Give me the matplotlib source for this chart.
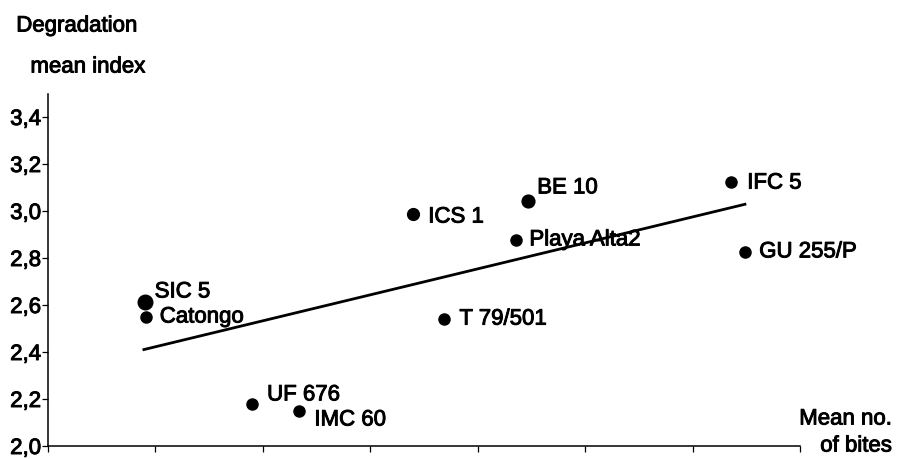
import matplotlib
matplotlib.use("Agg")
import matplotlib.pyplot as plt
import matplotlib.patheffects as pe
from matplotlib.ticker import FuncFormatter, MultipleLocator

# Data (x in arbitrary axis units, 0..7)
varieties = ["SIC 5", "Catongo", "UF 676", "IMC 60", "T 79/501",
             "ICS 1", "BE 10", "Playa Alta2", "IFC 5", "GU 255/P"]
mean_bites = [0.90, 0.91, 1.90, 2.34, 3.69, 3.40, 4.47, 4.36, 6.36, 6.49]
degradation = [2.613, 2.549, 2.179, 2.149, 2.540, 2.987, 3.043, 2.877, 3.123, 2.826]
marker_sizes = [10.5, 8, 8, 8, 8, 8.5, 9.2, 8, 8, 8]
label_offsets = [(10, 10), (14, 0), (15, 9), (15, -9), (15, 0),
                 (15, -3), (9, 13), (13, 0), (16, -1), (14, 0)]

# Trend line end points
fit_x = [0.88, 6.50]
fit_y = [2.409, 3.030]

y_ticks = [2.0, 2.2, 2.4, 2.6, 2.8, 3.0, 3.2, 3.4]

plt.rcParams['font.family'] = ['Liberation Sans', 'DejaVu Sans']
FS = 16
heavy = [pe.withStroke(linewidth=0.7, foreground='black')]

fig = plt.figure(figsize=(9.02, 4.60), dpi=100)
ax = fig.add_axes([48/902, 13/460, (800-48)/902, (447-94.5)/460])

ax.plot(fit_x, fit_y, color='black', lw=2.0, solid_capstyle='butt')
for x, y, ms, name, off in zip(mean_bites, degradation, marker_sizes, varieties, label_offsets):
    ax.plot([x], [y], 'o', color='black', ms=ms, mec='black')
    ax.annotate(name, (x, y), xytext=off, textcoords='offset pixels',
                ha='left', va='center', fontsize=FS, color='black', path_effects=heavy)

ax.set_xlim(0, 7)
ax.set_ylim(2.0, 3.5)
ax.xaxis.set_major_locator(MultipleLocator(1))
ax.set_yticks(y_ticks)
ax.yaxis.set_major_formatter(FuncFormatter(lambda v, p: f"{v:.1f}".replace('.', ',')))
ax.set_xticklabels([])
ax.tick_params(axis='x', direction='out', length=4, width=0.9, labelbottom=False)
ax.tick_params(axis='y', direction='out', length=4, width=0.9, labelsize=FS, pad=1)
for lbl in ax.get_yticklabels():
    lbl.set_path_effects(heavy)
for s in ['top', 'right']:
    ax.spines[s].set_visible(False)
for s in ['left', 'bottom']:
    ax.spines[s].set_linewidth(1.1)

fig.text(77/902, 1 - 27/460, "Degradation", ha='center', va='center', fontsize=FS, path_effects=heavy)
fig.text(88/902, 1 - 68/460, "mean index", ha='center', va='center', fontsize=FS, path_effects=heavy)
fig.text(892/902, 1 - 420/460, "Mean no.", ha='right', va='center', fontsize=FS, path_effects=heavy)
fig.text(892/902, 1 - 447/460, "of bites", ha='right', va='center', fontsize=FS, path_effects=heavy)

fig.savefig("out.png", dpi=100)
